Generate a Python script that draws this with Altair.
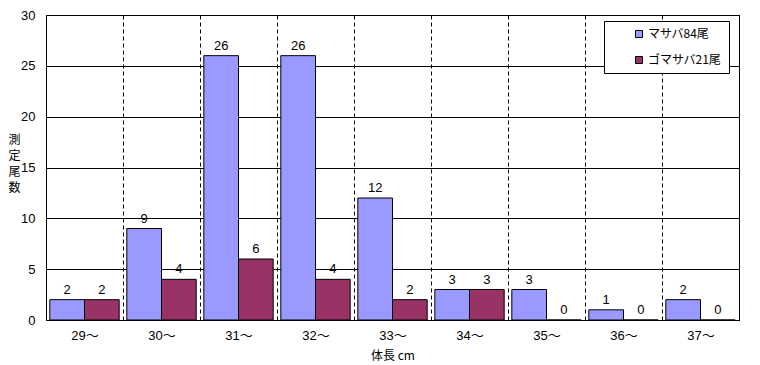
import altair as alt
import pandas as pd

categories = ["29〜", "30〜", "31〜", "32〜", "33〜", "34〜", "35〜", "36〜", "37〜"]
series_names = ["マサバ84尾", "ゴマサバ21尾"]
masaba = [2, 9, 26, 26, 12, 3, 3, 1, 2]
gomasaba = [2, 4, 6, 4, 2, 3, 0, 0, 0]
colors = ["#9999FF", "#993366"]

rows = []
for c, a, b in zip(categories, masaba, gomasaba):
    rows.append({"cat": c, "series": series_names[0], "value": a})
    rows.append({"cat": c, "series": series_names[1], "value": b})
df = pd.DataFrame(rows)

FONT = "Liberation Sans Narrow, Liberation Sans, Noto Sans CJK JP"
CJK = "Noto Sans CJK JP"

x_enc = alt.X(
    "cat:N",
    sort=categories,
    scale=alt.Scale(paddingInner=0, paddingOuter=0),
    axis=alt.Axis(
        title="体長  cm",
        labelAngle=0,
        grid=True,
        gridDash=[4, 3],
        gridColor="black",
        gridWidth=1,
        gridOpacity=1,
        tickBand="extent",
        ticks=False,
        tickSize=0,
        domain=True,
        domainColor="black",
        labelPadding=9,
        labelFont=FONT,
        labelFontSize=13,
        labelColor="black",
        titleFont=CJK,
        titleFontSize=12,
        titleFontWeight="normal",
        titleColor="black",
        titleX=346.5,
        titleY=35,
        titleBaseline="middle",
        titleAlign="center",
    ),
)
xoff = alt.XOffset(
    "series:N",
    sort=series_names,
    scale=alt.Scale(paddingInner=0, paddingOuter=0.11),
)
y_enc = alt.Y(
    "value:Q",
    scale=alt.Scale(domain=[0, 30], nice=False),
    axis=alt.Axis(
        values=[0, 5, 10, 15, 20, 25, 30],
        title=["測", "定", "尾", "数"],
        titleAngle=0,
        titleAlign="center",
        titleBaseline="middle",
        titleX=-32,
        titleY=124,
        titleLineHeight=16,
        titleFont=CJK,
        titleFontSize=12,
        titleFontWeight="normal",
        titleColor="black",
        grid=True,
        gridColor="black",
        gridWidth=1,
        gridOpacity=1,
        ticks=False,
        tickSize=0,
        domainColor="black",
        labelPadding=11,
        labelFont=FONT,
        labelFontSize=13,
        labelColor="black",
    ),
)
color = alt.Color(
    "series:N",
    sort=series_names,
    scale=alt.Scale(domain=series_names, range=colors),
    legend=alt.Legend(
        title=None,
        orient="none",
        legendX=558,
        legendY=6,
        fillColor="white",
        strokeColor="black",
        padding=7,
        rowPadding=14,
        symbolType="square",
        symbolSize=49,
        symbolStrokeColor="black",
        symbolStrokeWidth=1,
        symbolOpacity=1,
        symbolOffset=22,
        labelOffset=3,
        labelFont=CJK,
        labelFontSize=12,
        labelColor="black",
        labelExpr="datum.label + '      '",
    ),
)

base = alt.Chart(df).encode(x=x_enc, xOffset=xoff, y=y_enc)

bars = base.mark_bar(stroke="black", strokeWidth=1, opacity=1).encode(color=color)
labels = base.mark_text(
    baseline="bottom", dy=-3, font=FONT, fontSize=13, color="black"
).encode(text="value:Q")

chart = (
    alt.layer(bars, labels)
    .properties(
        width=693,
        height=305,
        autosize=alt.AutoSizeParams(type="none"),
        padding={"left": 46, "top": 15, "right": 21, "bottom": 45},
        background="white",
    )
    .configure_view(stroke="black", strokeWidth=1)
)

chart.save("out.html", embed_options={"renderer": "svg", "actions": False})
